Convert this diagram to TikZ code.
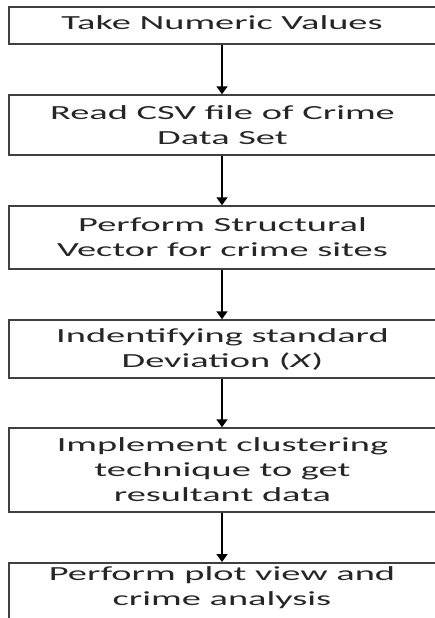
\documentclass[tikz,border=0pt]{standalone}
\usepackage{fontspec}
\setmainfont[FakeStretch=1.92]{Carlito}
\usetikzlibrary{arrows.meta}
\begin{document}
\begin{tikzpicture}[x=1pt,y=-1pt,
  box/.style={draw=black!75, line width=1.5pt, minimum width=427pt, inner sep=0pt,
    align=center, text=black!85, font=\fontsize{20}{25}\selectfont},
  txt/.style={inner sep=0pt, align=center, text=black!85, font=\fontsize{20}{25}\selectfont},
  arr/.style={line width=1.8pt, -{Triangle[length=8pt,width=11pt]}}]
\useasboundingbox (0,0) rectangle (434,618);
\node[box, minimum height=37pt] (b1) at (222.5,25.5) {};
\node[txt] (t1) at (222,22.5) {Take Numeric Values};
\node[box, minimum height=60pt] (b2) at (222.5,125) {Read CSV file of Crime\\Data Set};
\node[box, minimum height=63pt] (b3) at (222.5,237.5) {Perform Structural\\Vector for crime sites};
\node[box, minimum height=58pt] (b4) at (222.5,349) {Indentifying standard\\Deviation (\textit{X})};
\node[box, minimum height=84pt] (b5) at (222.5,470) {Implement clustering\\technique to get\\resultant data};
\node[box, minimum height=80pt, anchor=north] (b6) at (222.5,562) {};
\node[txt] (t6) at (222,588) {Perform plot view and\\crime analysis};
\coordinate (ax) at (222,0);
\draw[arr] (b1.south -| ax) -- (b2.north -| ax);
\draw[arr] (b2.south -| ax) -- (b3.north -| ax);
\draw[arr] (b3.south -| ax) -- (b4.north -| ax);
\draw[arr] (b4.south -| ax) -- (b5.north -| ax);
\draw[arr] (b5.south -| ax) -- (b6.north -| ax);
\end{tikzpicture}
\end{document}
